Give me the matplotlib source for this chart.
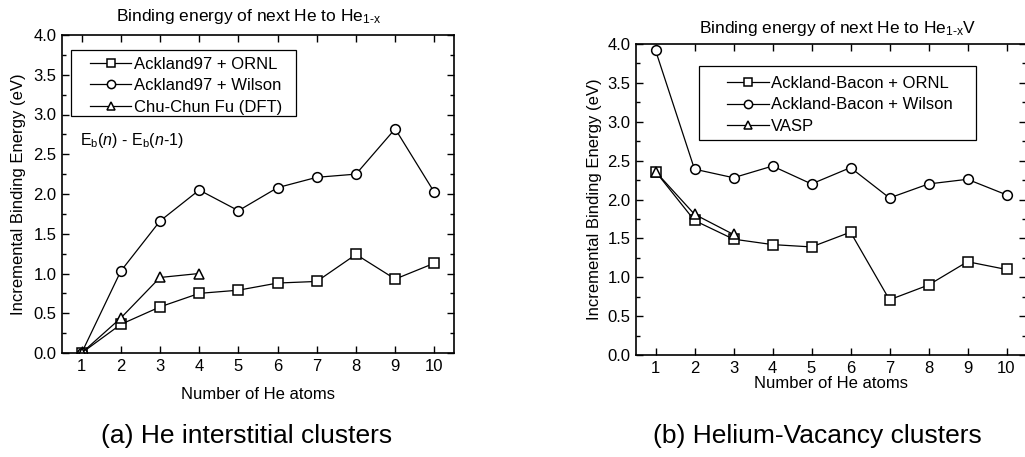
# He クラスタの結合エネルギーを2枚並べて描くスクリプト

import matplotlib
matplotlib.use("Agg")
import matplotlib.pyplot as plt
from matplotlib.patches import Rectangle
from matplotlib.ticker import MultipleLocator

plt.rcParams['font.family'] = ['Liberation Sans', 'DejaVu Sans']
plt.rcParams['mathtext.fontset'] = 'custom'
plt.rcParams['mathtext.rm'] = 'Liberation Sans'
plt.rcParams['mathtext.it'] = 'Liberation Sans:italic'

# (a) 格子間 He クラスタ
n_a = [1, 2, 3, 4, 5, 6, 7, 8, 9, 10]
ornl_a = [0.0, 0.36, 0.58, 0.75, 0.79, 0.88, 0.90, 1.24, 0.93, 1.13]
wilson_a = [0.0, 1.03, 1.66, 2.05, 1.79, 2.08, 2.21, 2.25, 2.82, 2.02]
n_dft = [1, 2, 3, 4]
dft_a = [0.0, 0.44, 0.95, 1.0]

# (b) He-空孔クラスタ
n_b = [1, 2, 3, 4, 5, 6, 7, 8, 9, 10]
ornl_b = [2.36, 1.73, 1.49, 1.42, 1.39, 1.58, 0.71, 0.90, 1.20, 1.10]
wilson_b = [3.92, 2.39, 2.28, 2.43, 2.20, 2.41, 2.02, 2.20, 2.26, 2.06]
n_vasp = [1, 2, 3]
vasp_b = [2.36, 1.81, 1.55]

W, H = 1025, 457
fig = plt.figure(figsize=(W / 100, H / 100), dpi=100)


def px_axes(x0, y0, x1, y1):
    return fig.add_axes([x0 / W, 1 - y1 / H, (x1 - x0) / W, (y1 - y0) / H])


def style(ax):
    ax.set_xlim(0.5, 10.5)
    ax.set_ylim(0, 4.0)
    ax.xaxis.set_major_locator(MultipleLocator(1))
    ax.yaxis.set_major_locator(MultipleLocator(0.5))
    ax.yaxis.set_minor_locator(MultipleLocator(0.25))
    ax.yaxis.set_major_formatter(plt.FormatStrFormatter('%.1f'))
    ax.tick_params(which='both', direction='in', top=True, right=True,
                   labelsize=12, width=1, pad=4)
    ax.tick_params(which='major', length=5)
    ax.tick_params(which='minor', length=3)
    for s in ax.spines.values():
        s.set_linewidth(1.2)


def legend_box(ax, x, y, w, h):
    # 凡例の枠は横に余白が広いので別に描く
    ax.add_patch(Rectangle((x, y), w, h, transform=ax.transAxes, fill=False,
                           edgecolor='k', lw=0.9, zorder=5))


mk = dict(color='k', lw=0.9, markerfacecolor='white', markeredgecolor='k',
          markersize=7, markeredgewidth=1.1)
leg_kw = dict(loc='upper left', fontsize=12, frameon=False, numpoints=1,
              handlelength=2.5, handletextpad=0.15, labelspacing=0.4,
              borderpad=0, borderaxespad=0, markerscale=0.85)

# --- (a) ---
ax1 = px_axes(62, 35, 454, 353)
style(ax1)
ax1.plot(n_a, ornl_a, marker='s', label='Ackland97 + ORNL', **mk)
ax1.plot(n_a, wilson_a, marker='o', label='Ackland97 + Wilson', **mk)
ax1.plot(n_dft, dft_a, marker='^', label='Chu-Chun Fu (DFT)', **mk)
ax1.set_xlabel("Number of He atoms", fontsize=12, labelpad=10)
ax1.set_ylabel("Incremental Binding Energy (eV)", fontsize=12, labelpad=5)
ax1.legend(bbox_to_anchor=(0.071, 0.932), **leg_kw)
legend_box(ax1, 0.023, 0.745, 0.574, 0.2075)
ax1.text(0.045, 0.655, r"E$_\mathregular{b}$($\it{n}$) - E$_\mathregular{b}$($\it{n}$-$\it{1}$)",
         transform=ax1.transAxes, fontsize=11.5)
fig.text(249 / W, 1 - 17 / H, r"Binding energy of next He to He$_\mathregular{1\text{-}x}$",
         ha='center', va='center', fontsize=12.5)
fig.text(247 / W, 1 - 436 / H, "(a) He interstitial clusters",
         ha='center', va='center', fontsize=19)

# --- (b) ---
ax2 = px_axes(636, 44, 1026, 355)
style(ax2)
ax2.plot(n_b, ornl_b, marker='s', label='Ackland-Bacon + ORNL', **mk)
ax2.plot(n_b, wilson_b, marker='o', label='Ackland-Bacon + Wilson', **mk)
ax2.plot(n_vasp, vasp_b, marker='^', label='VASP', **mk)
ax2.set_xlabel("Number of He atoms", fontsize=12, labelpad=0)
ax2.set_ylabel("Incremental Binding Energy (eV)", fontsize=12, labelpad=4)
ax2.legend(bbox_to_anchor=(0.233, 0.898), **leg_kw)
legend_box(ax2, 0.1615, 0.691, 0.710, 0.238)
fig.text(838 / W, 1 - 28 / H, r"Binding energy of next He to He$_\mathregular{1\text{-}x}$V",
         ha='center', va='center', fontsize=12.5)
fig.text(817 / W, 1 - 436 / H, "(b) Helium-Vacancy clusters",
         ha='center', va='center', fontsize=19)

fig.savefig("out.png", dpi=100)
